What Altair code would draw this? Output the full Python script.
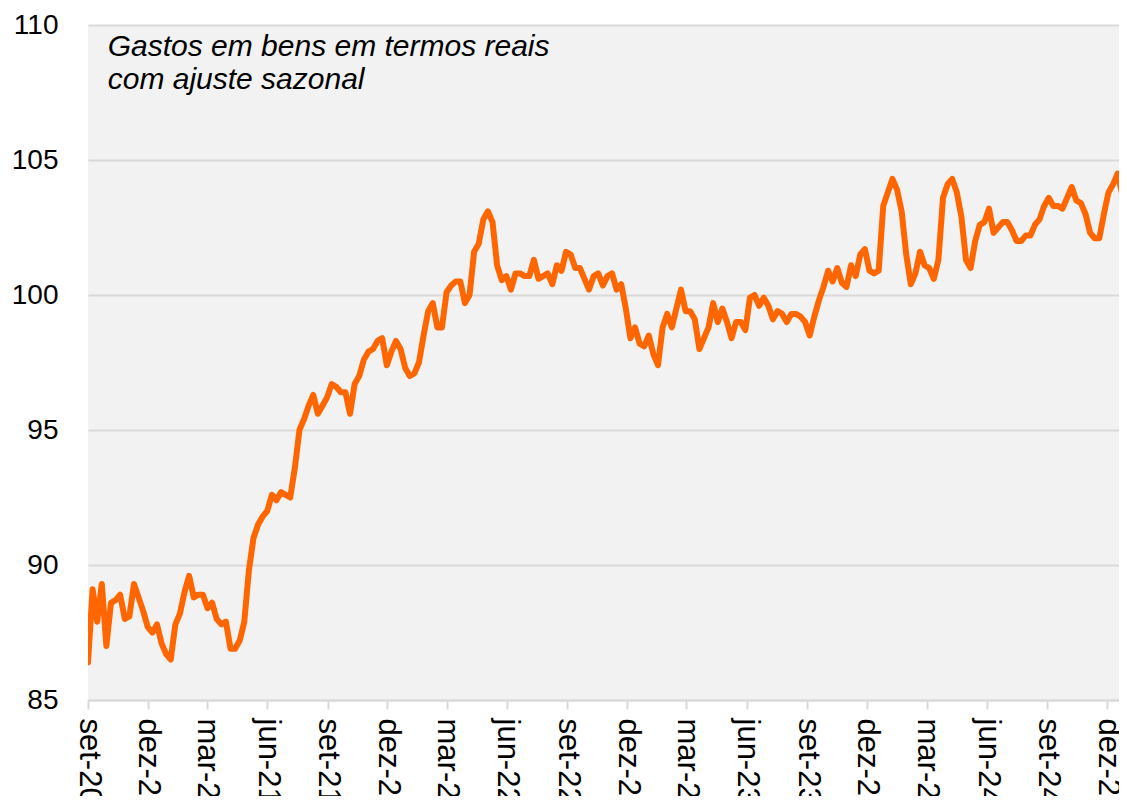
import altair as alt
import pandas as pd

# ---- data (weekly samples) ----
start_date = "2020-09-01"
view_end_date = "2024-12-19"   # last date visible inside the picture
values = [
    86.4, 89.1, 87.9, 89.3, 87.0, 88.6, 88.7, 88.9, 88.0, 88.1,
    89.3, 88.8, 88.3, 87.7, 87.5, 87.8, 87.1, 86.7, 86.5, 87.8,
    88.2, 89.0, 89.6, 88.8, 88.9, 88.9, 88.4, 88.6, 88.0, 87.8,
    87.9, 86.9, 86.9, 87.2, 87.9, 89.8, 91.0, 91.5, 91.8, 92.0,
    92.6, 92.4, 92.7, 92.6, 92.5, 93.6, 95.0, 95.4, 95.9, 96.3,
    95.6, 95.9, 96.2, 96.7, 96.6, 96.4, 96.4, 95.6, 96.7, 97.0,
    97.6, 97.9, 98.0, 98.3, 98.4, 97.4, 97.9, 98.3, 98.0, 97.3,
    97.0, 97.1, 97.5, 98.5, 99.4, 99.7, 98.8, 98.8, 100.1, 100.35,
    100.5, 100.5, 99.7, 100.0, 101.6, 101.9, 102.8, 103.1, 102.7, 101.1,
    100.55, 100.7, 100.2, 100.8, 100.8, 100.7, 100.7, 101.3, 100.6, 100.7,
    100.8, 100.4, 101.1, 100.9, 101.6, 101.5, 101.0, 101.0, 100.6, 100.2,
    100.7, 100.8, 100.35, 100.7, 100.8, 100.2, 100.4, 99.5, 98.4, 98.8,
    98.2, 98.1, 98.5, 97.8, 97.4, 98.8, 99.3, 98.8, 99.5, 100.2,
    99.4, 99.4, 99.1, 98.0, 98.4, 98.8, 99.7, 99.0, 99.5, 99.0,
    98.4, 99.0, 99.0, 98.7, 99.9, 100.0, 99.6, 99.9, 99.6, 99.1,
    99.4, 99.3, 99.0, 99.3, 99.3, 99.2, 99.0, 98.5, 99.2, 99.8,
    100.3, 100.9, 100.5, 101.0, 100.45, 100.3, 101.1, 100.7, 101.5, 101.7,
    100.9, 100.8, 100.9, 103.3, 103.8, 104.3, 103.9, 103.1, 101.5, 100.4,
    100.8, 101.6, 101.1, 101.0, 100.6, 101.3, 103.6, 104.1, 104.3, 103.8,
    102.9, 101.3, 101.0, 102.0, 102.6, 102.7, 103.2, 102.3, 102.5, 102.7,
    102.7, 102.4, 102.0, 102.0, 102.2, 102.2, 102.6, 102.8, 103.3, 103.6,
    103.3, 103.3, 103.2, 103.6, 104.0, 103.5, 103.4, 103.0, 102.3, 102.1,
    102.1, 103.0, 103.8, 104.1, 104.5, 103.7, 102.9,
]
tick_dates = [
    "2020-09-01", "2020-12-01", "2021-03-01", "2021-06-01", "2021-09-01",
    "2021-12-01", "2022-03-01", "2022-06-01", "2022-09-01", "2022-12-01",
    "2023-03-01", "2023-06-01", "2023-09-01", "2023-12-01", "2024-03-01",
    "2024-06-01", "2024-09-01", "2024-12-01",
]
month_names = ["jan", "fev", "mar", "abr", "mai", "jun",
               "jul", "ago", "set", "out", "nov", "dez"]
y_ticks = [85, 90, 95, 100, 105, 110]
note_lines = ["Gastos em bens em termos reais", "com ajuste sazonal"]
note_date = "2020-10-01"
note_values = [108.85, 107.63]

FONT = "Liberation Sans"


def to_dt(s):
    return alt.DateTime(year=int(s[:4]), month=int(s[5:7]), date=int(s[8:10]))


df = pd.DataFrame({
    "data": pd.date_range(start_date, periods=len(values), freq="7D"),
    "valor": values,
})
notes = pd.DataFrame({
    "data": pd.to_datetime([note_date] * len(note_lines)),
    "valor": note_values,
    "texto": note_lines,
})

label_expr = (
    "[" + ",".join("'" + m + "'" for m in month_names) + "][month(datum.value)]"
    " + '-' + timeFormat(datum.value, '%y')"
)

x_scale = alt.Scale(domain=[to_dt(start_date), to_dt(view_end_date)])
y_scale = alt.Scale(domain=[85, 110], zero=False, nice=False)

x_axis = alt.Axis(
    values=[to_dt(d) for d in tick_dates],
    labelExpr=label_expr,
    labelAngle=90,
    labelFontSize=31,
    labelFont=FONT,
    labelColor="#000000",
    labelPadding=9,
    labelFlush=False,
    labelOverlap=False,
    tickSize=9,
    tickWidth=2,
    tickColor="#d9d9d9",
    domainColor="#d9d9d9",
    domainWidth=2,
    grid=False,
    title=None,
)
y_axis = alt.Axis(
    values=y_ticks,
    labelFontSize=28,
    labelFont=FONT,
    labelColor="#000000",
    labelPadding=30,
    ticks=False,
    domain=False,
    grid=True,
    gridColor="#d9d9d9",
    gridWidth=2,
    title=None,
)

line = alt.Chart(df).mark_line(
    color="#ff6600", strokeWidth=6, strokeJoin="round", strokeCap="round",
    clip=True,
).encode(
    x=alt.X("data:T", scale=x_scale, axis=x_axis),
    y=alt.Y("valor:Q", scale=y_scale, axis=y_axis),
)

text = alt.Chart(notes).mark_text(
    align="left", baseline="alphabetic", fontSize=30, fontStyle="italic",
    font=FONT, color="#000000",
).encode(
    x=alt.X("data:T", scale=x_scale),
    y=alt.Y("valor:Q", scale=y_scale),
    text="texto:N",
)

chart = alt.layer(line, text).properties(
    width=1031,
    height=675,
    autosize=alt.AutoSizeParams(type="none"),
    padding={"left": 80, "top": 17, "right": 0, "bottom": 96},
    background="#ffffff",
).configure_view(fill="#f2f2f2", strokeWidth=0)

chart.save("out.html", embed_options={"renderer": "svg", "actions": False})
